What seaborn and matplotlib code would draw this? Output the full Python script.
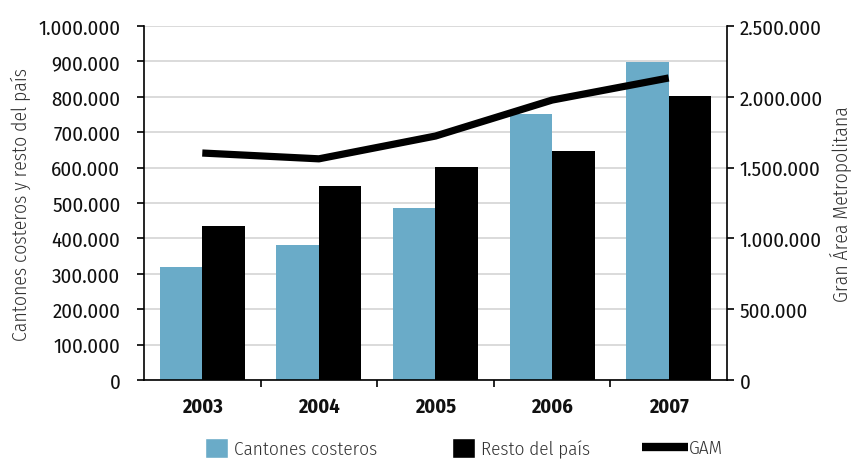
import matplotlib
matplotlib.use("Agg")
import matplotlib.pyplot as plt
from matplotlib.patches import Patch
from matplotlib.lines import Line2D
from matplotlib.ticker import FuncFormatter, MultipleLocator
import seaborn as sns
import pandas as pd

years = ["2003", "2004", "2005", "2006", "2007"]
cantones = [320000, 380000, 487000, 752000, 898000]
resto = [436000, 549000, 601000, 648000, 803000]
gam = [1603000, 1562000, 1723000, 1977000, 2133000]
series_names = ["Cantones costeros", "Resto del país", "GAM"]

sns.set_theme(style="white")
FONT = ["Fira Sans Condensed", "DejaVu Sans"]
plt.rcParams["font.family"] = FONT

df = pd.DataFrame({
    "year": years * 2,
    "value": cantones + resto,
    "serie": [series_names[0]] * len(years) + [series_names[1]] * len(years),
})
df_line = pd.DataFrame({"year": years, "gam": gam})

fig = plt.figure(figsize=(8.55, 4.6), dpi=100)
ax = fig.add_axes([0.1684, 0.1717, 0.6819, 0.7696])
blue = "#6AABC8"
sns.barplot(data=df, x="year", y="value", hue="serie", palette=[blue, "black"],
            width=0.73, saturation=1, ax=ax, legend=False, edgecolor="none", linewidth=0)
ax.set_ylim(0, 1000000)
ax.yaxis.set_major_locator(MultipleLocator(100000))
fmt = FuncFormatter(lambda v, p: f"{int(round(v)):,}".replace(",", "."))
ax.yaxis.set_major_formatter(fmt)
ax.grid(axis="y", color="#d4d4d4", linewidth=1.2)
ax.set_axisbelow(True)
ax.set_xlim(-0.5, 4.5)
ax.set_xlabel("")
ax.set_ylabel("Cantones costeros y resto del país", fontsize=14.2, fontweight=300,
              color="#333333", labelpad=5)

ax2 = ax.twinx()
sns.lineplot(data=df_line, x="year", y="gam", color="black", linewidth=5.2, ax=ax2,
             sort=False)
for ln in ax2.get_lines():
    ln.set_solid_capstyle("butt")
ax2.set_ylim(0, 2500000)
ax2.yaxis.set_major_locator(MultipleLocator(500000))
ax2.yaxis.set_major_formatter(fmt)
ax2.set_ylabel("Gran Área Metropolitana", fontsize=14.2, fontweight=300,
               color="#333333", labelpad=5)
ax2.set_xlim(-0.5, 4.5)
ax2.grid(False)

for a in (ax, ax2):
    for s in a.spines.values():
        s.set_visible(False)
ax.spines["left"].set_visible(True)
ax.spines["bottom"].set_visible(True)
ax2.spines["right"].set_visible(True)
for s in (ax.spines["left"], ax.spines["bottom"], ax2.spines["right"]):
    s.set_color("black")
    s.set_linewidth(1.2)

ax.tick_params(axis="y", which="major", left=True, length=5, width=1.2, color="black",
               labelsize=15, labelcolor="#111111", pad=12)
ax2.tick_params(axis="y", which="major", right=True, length=5, width=1.2, color="black",
                labelsize=15, labelcolor="#111111", pad=4)
# x ticks at category boundaries
ax.set_xticks([0, 1, 2, 3, 4])
ax.set_xticklabels(years, fontsize=14.5, fontweight="bold", color="#111111")
ax.tick_params(axis="x", which="major", bottom=False, pad=6)
ax.set_xticks([0.5, 1.5, 2.5, 3.5], minor=True)
ax.tick_params(axis="x", which="minor", bottom=True, length=5, width=1.2, color="black")

# legend entries placed individually
leg_kw = dict(frameon=False, prop={"family": FONT, "size": 13.8, "weight": 300},
              labelcolor="#333333", handletextpad=0.3, borderaxespad=0, borderpad=0)
y_leg = 1 - 449 / 460
l1 = fig.legend([Patch(facecolor=blue)], [series_names[0]], loc="center left",
                bbox_to_anchor=(205 / 855, y_leg), handlelength=1.2,
                handleheight=1.2, **leg_kw)
l2 = fig.legend([Patch(facecolor="black")], [series_names[1]], loc="center left",
                bbox_to_anchor=(452 / 855, y_leg), handlelength=1.2,
                handleheight=1.2, **leg_kw)
l3 = fig.legend([Line2D([0], [0], color="black", linewidth=6, solid_capstyle="butt")],
                [series_names[2]], loc="center left", bbox_to_anchor=(642 / 855, y_leg),
                handlelength=2.4, **{**leg_kw, "handletextpad": 0.05})

fig.savefig("out.png", dpi=100)
